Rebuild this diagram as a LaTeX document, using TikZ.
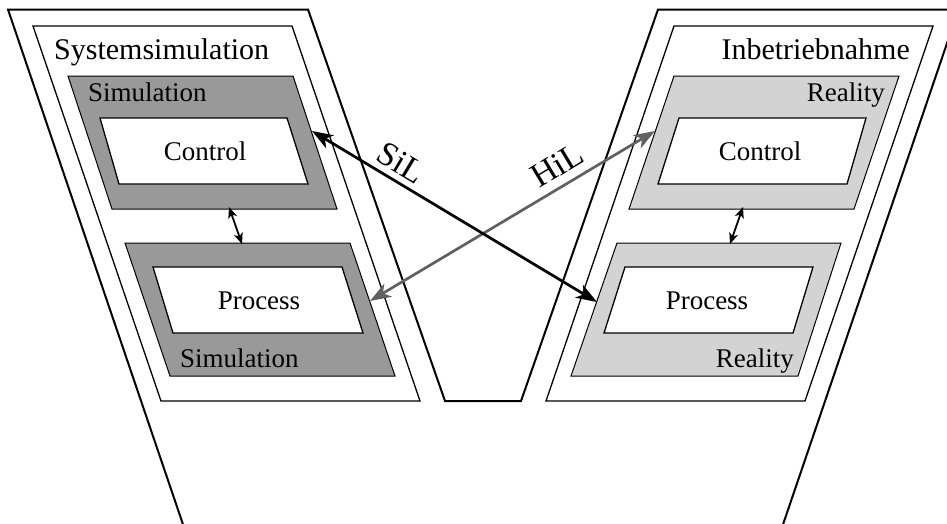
\documentclass[tikz,border=0pt]{standalone}
\usepackage{fontspec}
\setmainfont{Liberation Serif}
\usetikzlibrary{arrows.meta}
\definecolor{simgray}{HTML}{999999}
\definecolor{realgray}{HTML}{D3D3D3}
\definecolor{hilgray}{HTML}{606060}
\begin{document}
\begin{tikzpicture}[x=1pt,y=-1pt,
  frame/.style={draw=black, line width=2pt, line join=miter},
  phase/.style={draw=black, line width=1.3pt, fill=white},
  simbox/.style={draw=black, line width=1pt, fill=simgray},
  realbox/.style={draw=black, line width=1pt, fill=realgray},
  unit/.style={draw=black, line width=1.3pt, fill=white},
  big/.style={font=\fontsize{30}{36}\selectfont, inner sep=0pt},
  txt/.style={font=\fontsize{27}{32}\selectfont, inner sep=0pt},
  looplabel/.style={font=\fontsize{34}{40}\selectfont, inner sep=0pt},
  link/.style={line width=2.7pt, {Stealth[length=21pt,width=15pt,inset=6pt]}-{Stealth[length=21pt,width=15pt,inset=6pt]}},
  couple/.style={line width=1.8pt, {Stealth[length=11pt,width=9pt,inset=3pt]}-{Stealth[length=11pt,width=9pt,inset=3pt]}}
]
\useasboundingbox (0,0) rectangle (947,523);
\clip (0,0) rectangle (947,523);
% outer V frame
\draw[frame] (190,545) -- (8,9.5) -- (308,9.5) -- (445,401) -- (521,401) -- (658,9.5) -- (958.5,9.5) -- (776,545);
% phases
\draw[phase] (33,26) -- (292,26) -- (420,401) -- (161,401) -- cycle;
\draw[phase] (674,26) -- (933,26) -- (805,401) -- (546,401) -- cycle;
% left gray boxes
\draw[simbox] (68,76) -- (293,76) -- (337,209) -- (112,209) -- cycle;
\draw[simbox] (125,243) -- (350,243) -- (395,376) -- (170,376) -- cycle;
% right gray boxes
\draw[realbox] (674,76) -- (899,76) -- (854,209) -- (629,209) -- cycle;
\draw[realbox] (617,243) -- (841,243) -- (798,376) -- (571,376) -- cycle;
% white units
\draw[unit] (100,118) -- (287,118) -- (308,184) -- (119,184) -- cycle;
\draw[unit] (153,267) -- (342,267) -- (363,333) -- (173,333) -- cycle;
\draw[unit] (679,118) -- (866,118) -- (847,184) -- (658,184) -- cycle;
\draw[unit] (625,267) -- (813,267) -- (793,333) -- (604,333) -- cycle;
% texts
\node[big, anchor=base west] (sys) at (54,59) {Systemsimulation};
\node[big, anchor=base east] (inb) at (910,59) {Inbetriebnahme};
\node[txt, anchor=base west] (simA) at (88,101) {Simulation};
\node[txt, anchor=base west] (simB) at (180,367) {Simulation};
\node[txt, anchor=base east] (realA) at (885,101) {Reality};
\node[txt, anchor=base east] (realB) at (794,367) {Reality};
\node[txt, anchor=base] (ctrlL) at (205,160) {Control};
\node[txt, anchor=base] (ctrlR) at (760,160) {Control};
\node[txt, anchor=base] (procL) at (259,309) {Process};
\node[txt, anchor=base] (procR) at (707,309) {Process};
% coupling arrows
\coordinate (cLt) at (229,207);
\coordinate (cLb) at (242,244);
\coordinate (cRt) at (743,207);
\coordinate (cRb) at (730,244);
\draw[couple] (cLt) -- (cLb);
\draw[couple] (cRt) -- (cRb);
% loops
\coordinate (hilA) at (655,131);
\coordinate (hilB) at (370,301);
\coordinate (silA) at (312,131);
\coordinate (silB) at (597,302);
\draw[link, draw=hilgray, fill=hilgray] (hilB) -- (hilA);
\draw[link, draw=black, fill=black] (silA) -- (silB);
\node[looplabel, rotate=-31] (sil) at (401,163) {SiL};
\node[looplabel, rotate=31] (hil) at (557,165) {HiL};
\end{tikzpicture}
\end{document}
